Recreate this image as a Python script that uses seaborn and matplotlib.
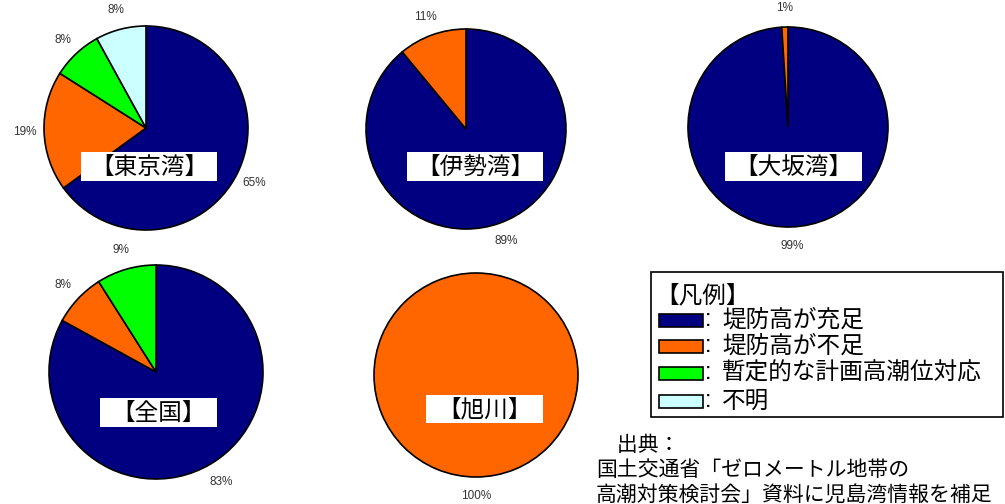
import matplotlib
matplotlib.use("Agg")
import matplotlib.pyplot as plt
import seaborn as sns
from matplotlib.patches import Rectangle
import numpy as np

# ---- data ----
categories = ["堤防高が充足", "堤防高が不足", "暫定的な計画高潮位対応", "不明"]
colors = ["#000080", "#FF6600", "#00FF00", "#CCFFFF"]

region_names = ["【東京湾】", "【伊勢湾】", "【大坂湾】", "【全国】", "【旭川】"]
tokyo_vals = [65, 19, 8, 8]
ise_vals = [89, 11, 0, 0]
osaka_vals = [99, 1, 0, 0]
zenkoku_vals = [83, 8, 9, 0]
asahikawa_vals = [0, 100, 0, 0]
all_vals = [tokyo_vals, ise_vals, osaka_vals, zenkoku_vals, asahikawa_vals]

legend_title = "【凡例】"
source_lines = ["　出典：", "国土交通省「ゼロメートル地帯の", "高潮対策検討会」資料に児島湾情報を補足"]

# ---- layout (pixels) ----
W, H = 1005, 504
pie_geom = [  # cx, cy, r
    (146, 128, 102),
    (466, 129, 100),
    (788, 127, 100),
    (156, 372, 107),
    (476, 375, 102),
]
title_boxes = [  # x0, x1, y0, y1
    (81, 217, 152, 181),
    (407, 543, 152, 181),
    (725, 862, 152, 181),
    (100, 217, 398, 427),
    (426, 543, 395, 423),
]

sns.set_theme(style="white")
plt.rcParams["font.family"] = ["Noto Sans CJK JP", "DejaVu Sans"]

fig = plt.figure(figsize=(W / 100, H / 100), dpi=100)
fig.patch.set_facecolor("white")

k = 1.5
for vals, (cx, cy, r) in zip(all_vals, pie_geom):
    left = (cx - k * r) / W
    bottom = (H - cy - k * r) / H
    ax = fig.add_axes([left, bottom, 2 * k * r / W, 2 * k * r / H])
    nz = [(v, c) for v, c in zip(vals, colors) if v > 0]
    v_list = [v for v, _ in nz]
    c_list = [c for _, c in nz]
    wedges, texts = ax.pie(
        v_list, colors=c_list, startangle=90, counterclock=False,
        labels=[f"{v}%" for v in v_list], labeldistance=1.19,
        wedgeprops=dict(edgecolor="black", linewidth=1.2),
        textprops=dict(fontsize=8.5, color="#333333", family="Liberation Sans"),
    )
    for t in texts:
        t.set_ha("center")
        t.set_va("center")
    ax.set_xlim(-k, k)
    ax.set_ylim(-k, k)
    ax.set_aspect("equal")
    ax.axis("off")

# overlay axes in pixel coordinates
ov = fig.add_axes([0, 0, 1, 1], zorder=10)
ov.set_xlim(0, W)
ov.set_ylim(H, 0)
ov.axis("off")
ov.patch.set_alpha(0)

for name, (x0, x1, y0, y1) in zip(region_names, title_boxes):
    ov.add_patch(Rectangle((x0, y0), x1 - x0, y1 - y0, facecolor="white", edgecolor="none"))
    ov.text((x0 + x1) / 2, (y0 + y1) / 2 + 1, name, ha="center", va="center",
            fontsize=17, color="black")

# legend box
ov.add_patch(Rectangle((651, 272), 352, 145, facecolor="white", edgecolor="black", linewidth=1.2))
ov.text(655, 296, legend_title, ha="left", va="center", fontsize=17, color="black")
row_y = [320, 346, 373, 401]
for cat, col, y in zip(categories, colors, row_y):
    ov.add_patch(Rectangle((659, y - 6), 44, 13, facecolor=col, edgecolor="black", linewidth=1.2))
    ov.text(705, y, ":", ha="left", va="center", fontsize=17, color="black",
            family=["Liberation Sans", "DejaVu Sans"])
    ov.text(722, y, cat, ha="left", va="center", fontsize=17, color="black")

src_y = [445, 470, 495]
for line, y in zip(source_lines, src_y):
    ov.text(596, y, line, ha="left", va="center", fontsize=15, color="black")

fig.savefig("out.png", dpi=100, facecolor="white")
